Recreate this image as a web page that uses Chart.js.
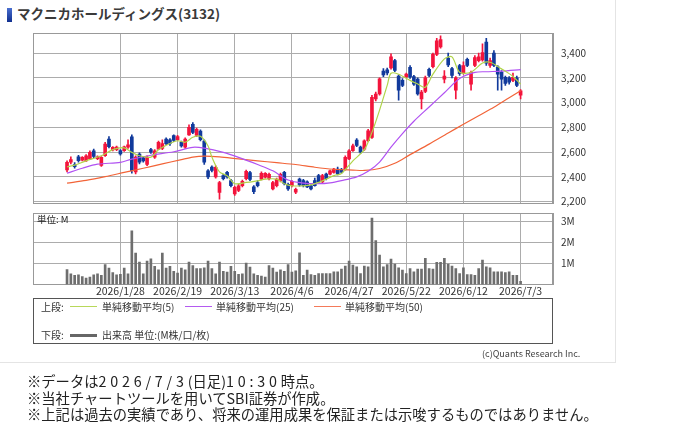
<!DOCTYPE html>
<html lang="ja">
<head>
<meta charset="utf-8">
<script src="https://cdn.jsdelivr.net/npm/chart.js@4.4.1/dist/chart.umd.min.js"></script>
<style>
  body { margin: 0; background: #fff; font-family: 'Noto Sans CJK JP', sans-serif; color: #333; }
  #wrap { position: relative; width: 615px; height: 362px; border-right: 1px solid #e4e4e4; border-bottom: 1px solid #e4e4e4; }
  #title { position: absolute; left: 17px; top: 3px; font-size: 13.5px; font-weight: bold; color: #3a3a3a; white-space: nowrap; }
  #mark { position: absolute; left: 7px; top: 8px; width: 5px; height: 14px; background: linear-gradient(#4a6fd0, #102f8f); }
  canvas { position: absolute; left: 0; }
  #price { top: 0; }
  #vol { top: 205px; }
  #unit { position: absolute; left: 37px; top: 212px; font-size: 9.5px; color: #222; }
  #legend { position: absolute; left: 33px; top: 298px; width: 518px; height: 44px; border: 1px solid #555; font-size: 10px; color: #333; }
  #legend span { position: absolute; white-space: nowrap; }
  #legend i { position: absolute; height: 0; }
  #copy { position: absolute; left: 482px; top: 347px; font-size: 9px; color: #444; }
  #note { position: absolute; left: 27px; top: 373px; font-size: 14.3px; line-height: 16.5px; color: #222; white-space: nowrap; }
  #note b { font-weight: normal; letter-spacing: 3.8px; }
</style>
</head>
<body>
<div id="wrap">
  <div id="mark"></div>
  <div id="title">マクニカホールディングス(3132)</div>
  <canvas id="price" width="620" height="212"></canvas>
  <canvas id="vol" width="620" height="96"></canvas>
  <div id="unit">単位: M</div>
  <div id="legend">
    <span style="left:7px;top:0px">上段:</span>
    <i style="left:36px;top:7px;width:27px;border-top:1.5px solid #b8d85a"></i>
    <span style="left:68px;top:0px">単純移動平均(5)</span>
    <i style="left:151px;top:7px;width:27px;border-top:1.5px solid #b45af0"></i>
    <span style="left:182px;top:0px">単純移動平均(25)</span>
    <i style="left:280px;top:7px;width:27px;border-top:1.5px solid #f47a5a"></i>
    <span style="left:311px;top:0px">単純移動平均(50)</span>
    <span style="left:7px;top:28px">下段:</span>
    <i style="left:36px;top:35px;width:27px;border-top:3px solid #666"></i>
    <span style="left:68px;top:28px">出来高 単位:(M株/口/枚)</span>
  </div>
  <div id="copy">(c)Quants Research Inc.</div>
</div>
<div id="note">※データは<b>2026/7/3</b>(日足)<b>10:30</b>時点。<br>※当社チャートツールを用いてSBI証券が作成。<br>※上記は過去の実績であり、将来の運用成果を保証または示唆するものではありません。</div>

<script>
// 日足データ (2026/1/7 〜 2026/7/3, 120本)
const opens = [2457,2520,2500,2562,2536,2530,2545,2610,2548,2492,2571,2705,2618,2620,2612,2612,2640,2724,2440,2585,
  2555,2500,2620,2560,2625,2630,2706,2700,2733,2700,2680,2640,2740,2825,2735,2770,2690,2450,2480,2400,
  2275,2410,2436,2370,2262,2290,2330,2385,2435,2320,2355,2382,2398,2385,2302,2330,2370,2436,2340,2330,
  2276,2382,2370,2360,2328,2370,2410,2360,2422,2422,2436,2463,2460,2463,2545,2612,2698,2640,2625,2692,
  2720,3030,3070,3255,3265,3280,3340,3215,3180,3208,3286,3210,3190,3030,3090,3270,3290,3390,3450,3190,
  3360,3275,3100,3300,3240,3350,3150,3300,3340,3345,3490,3300,3400,3290,3245,3205,3200,3180,3200,3060];
const highs = [2530,2562,2515,2575,2565,2580,2610,2625,2570,2565,2680,2725,2645,2650,2620,2650,2700,2740,2570,2595,
  2565,2570,2630,2620,2690,2700,2715,2710,2740,2735,2690,2715,2820,2840,2795,2780,2700,2460,2490,2490,
  2365,2420,2445,2380,2325,2340,2375,2455,2445,2330,2370,2440,2435,2430,2365,2390,2430,2445,2350,2370,
  2310,2390,2380,2368,2335,2390,2420,2420,2430,2455,2470,2480,2470,2570,2620,2665,2710,2650,2700,2785,
  3060,3085,3200,3275,3280,3395,3350,3225,3195,3240,3300,3220,3200,3100,3215,3280,3400,3520,3540,3260,
  3400,3285,3210,3310,3330,3360,3255,3380,3400,3475,3520,3360,3420,3300,3260,3215,3210,3240,3215,3105];
const lows = [2440,2505,2470,2520,2530,2525,2540,2555,2540,2485,2565,2635,2610,2612,2575,2605,2630,2430,2425,2505,
  2520,2490,2590,2550,2620,2620,2660,2655,2685,2695,2640,2630,2735,2750,2725,2690,2500,2385,2440,2390,
  2220,2375,2390,2320,2250,2280,2320,2375,2370,2265,2320,2375,2390,2375,2295,2320,2360,2335,2290,2320,
  2265,2325,2320,2312,2295,2325,2350,2350,2375,2415,2430,2415,2430,2455,2540,2605,2645,2590,2615,2685,
  2710,3015,3060,3210,3225,3270,3250,3020,3130,3200,3195,3140,3060,2950,3080,3210,3280,3380,3440,3160,
  3290,3200,3030,3220,3230,3290,3100,3290,3330,3335,3300,3285,3290,3100,3100,3140,3150,3170,3130,3030];
const closes = [2517,2540,2482,2532,2558,2570,2598,2565,2562,2558,2665,2645,2638,2640,2585,2643,2660,2450,2560,2520,
  2530,2560,2600,2610,2680,2670,2668,2670,2695,2725,2650,2705,2800,2760,2785,2700,2520,2400,2452,2477,
  2355,2385,2400,2330,2315,2328,2365,2445,2380,2280,2330,2428,2428,2420,2355,2380,2420,2345,2302,2365,
  2300,2335,2330,2320,2302,2330,2360,2410,2385,2449,2463,2425,2438,2558,2610,2652,2655,2600,2692,2773,
  3044,3070,3192,3225,3240,3370,3260,3100,3140,3230,3208,3150,3070,3085,3200,3220,3390,3500,3510,3215,
  3305,3220,3200,3235,3300,3300,3245,3365,3370,3405,3320,3340,3300,3230,3190,3155,3165,3205,3140,3095];
// 出来高 (M)
const volumes = [0.71,0.51,0.43,0.46,0.38,0.30,0.35,0.46,0.51,0.43,0.94,0.78,0.56,0.46,0.48,0.78,0.51,2.54,1.49,1.06,
  0.51,1.11,1.22,0.86,0.70,1.49,0.78,0.86,0.62,0.54,0.78,0.70,1.06,0.90,0.75,0.75,0.79,1.11,0.75,0.51,
  1.06,0.62,0.59,0.86,0.62,0.48,0.51,1.02,0.83,0.51,0.43,0.40,0.35,0.90,0.78,0.59,0.70,0.63,0.95,0.59,
  0.65,1.50,0.44,0.68,0.47,0.44,0.52,0.52,0.52,0.52,0.60,0.60,0.73,0.87,1.11,0.92,0.84,0.52,0.87,0.84,
  3.15,2.08,1.40,0.84,0.95,1.21,0.97,0.79,0.68,0.52,0.76,0.60,0.73,0.73,1.24,0.76,0.73,1.05,1.05,1.24,
  0.97,0.87,0.76,0.52,0.79,0.47,0.47,0.44,0.76,1.16,0.84,0.79,0.60,0.60,0.60,0.56,0.60,0.44,0.44,0.15];

// 移動平均 (画像から読み取り, x = 足の番号)
const ma5Idx = [0,2,5,9,12,15,17,19,22,24,27,29,31,33,35,37,38,40,42,44,47,50,52,55,57,59,62,64,67,70,72,75,78,80,82,84,85,87,90,92,94,96,99,101,103,106,109,111,114,117,119];
const ma5Val = [2480,2495,2530,2571,2620,2635,2598,2571,2560,2620,2670,2692,2680,2720,2728,2650,2560,2440,2409,2345,2355,2368,2382,2382,2345,2328,2328,2335,2368,2410,2428,2530,2620,2760,2940,3140,3238,3230,3180,3151,3124,3230,3354,3370,3246,3246,3320,3327,3273,3212,3151];
const ma25Idx = [0,4,8,14,17,22,28,33,36,41,45,50,54,58,62,66,69,72,76,79,82,85,88,91,95,99,103,107,110,114,119];
const ma25Val = [2430,2470,2503,2517,2544,2575,2603,2639,2632,2598,2558,2500,2449,2375,2350,2345,2352,2370,2400,2445,2520,2640,2750,2850,2965,3080,3195,3245,3250,3255,3267];
const ma50Idx = [0,5,10,15,20,25,30,33,36,40,45,50,55,60,65,70,75,78,82,86,90,95,100,104,108,112,116,119];
const ma50Val = [2349,2372,2402,2436,2470,2505,2540,2560,2568,2562,2545,2530,2515,2500,2478,2462,2455,2452,2468,2510,2580,2665,2755,2825,2895,2963,3040,3097];

// 目盛り
const tickIdx = [14,29,44,59,74,89,104,119];
const tickLabels = ['2026/1/28','2026/2/19','2026/3/13','2026/4/6','2026/4/27','2026/5/22','2026/6/12','2026/7/3'];
const priceTicks = [2200,2400,2600,2800,3000,3200,3400];
const volTicks = [1,2,3];

const RED = '#f3143c';
const BLUE = '#113a9c';
const GRID = '#acacac';
const X_MIN = -8.93, X_MAX = 127.5;

Chart.defaults.font.family = "'Noto Sans CJK JP', sans-serif";
Chart.defaults.color = '#333';

const frame = {
  id: 'frame',
  beforeDatasetsDraw(chart) {
    const { ctx, chartArea: a } = chart;
    ctx.save();
    ctx.strokeStyle = '#999';
    ctx.lineWidth = 1;
    ctx.strokeRect(Math.round(a.left) + 0.5, Math.round(a.top) + 0.5, Math.round(a.width) - 1, Math.round(a.height) - 1);
    ctx.restore();
  }
};

// 軸ラベルの分だけ描画領域が縮まないようにする
function noPad(s) {
  s.paddingTop = 0; s.paddingBottom = 0; s.paddingLeft = 0; s.paddingRight = 0;
}

const idx = closes.map((_, i) => i);
const colors = idx.map(i => closes[i] >= opens[i] ? RED : BLUE);
const pts = (xs, ys) => xs.map((x, k) => ({ x: x, y: ys[k] }));

function xScale(showLabels, h) {
  return {
    type: 'linear', min: X_MIN, max: X_MAX, offset: false,
    grid: { color: GRID, offset: false, drawTicks: false },
    border: { color: '#999' },
    afterBuildTicks: s => { s.ticks = tickIdx.map(v => ({ value: v })); },
    afterFit: s => { s.height = h; noPad(s); },
    ticks: {
      display: showLabels, padding: 0, maxRotation: 0, autoSkip: false,
      font: { size: 10.5 }, color: '#333',
      callback: v => tickLabels[tickIdx.indexOf(v)]
    }
  };
}

function yScale(min, max, ticks, fmt) {
  return {
    position: 'right', min: min, max: max,
    grid: { color: GRID, drawTicks: false },
    border: { color: '#999' },
    afterBuildTicks: s => { s.ticks = ticks.map(v => ({ value: v })); },
    afterFit: s => { s.width = 67; noPad(s); },
    ticks: { padding: 8, font: { size: 10 }, color: '#333', callback: fmt }
  };
}

new Chart(document.getElementById('price'), {
  type: 'bar',
  data: {
    datasets: [
      { type: 'line', data: pts(ma5Idx, ma5Val), borderColor: '#b0d44a', borderWidth: 1.2, pointRadius: 0, tension: 0.3, order: 0 },
      { type: 'line', data: pts(ma25Idx, ma25Val), borderColor: '#b152f2', borderWidth: 1.2, pointRadius: 0, tension: 0.3, order: 0 },
      { type: 'line', data: pts(ma50Idx, ma50Val), borderColor: '#f26438', borderWidth: 1.2, pointRadius: 0, tension: 0.3, order: 0 },
      { data: idx.map(i => ({ x: i, y: [opens[i], closes[i]] })), backgroundColor: colors, barThickness: 3, minBarLength: 1, grouped: false, order: 1 },
      { data: idx.map(i => ({ x: i, y: [lows[i], highs[i]] })), backgroundColor: colors, barThickness: 1, grouped: false, order: 2 }
    ]
  },
  options: {
    responsive: false, animation: false,
    layout: { padding: { left: 33, top: 33, right: 0, bottom: 0 } },
    plugins: { legend: { display: false }, tooltip: { enabled: false } },
    scales: {
      x: xScale(false, 8.5),
      y: yScale(2185, 3563, priceTicks, v => v.toLocaleString('en-US'))
    }
  },
  plugins: [frame]
});

new Chart(document.getElementById('vol'), {
  type: 'bar',
  data: {
    datasets: [
      { data: idx.map(i => ({ x: i, y: volumes[i] })), backgroundColor: '#6e6e6e', barThickness: 2 }
    ]
  },
  options: {
    responsive: false, animation: false,
    layout: { padding: { left: 33, top: 8, right: 0, bottom: 0 } },
    plugins: { legend: { display: false }, tooltip: { enabled: false } },
    scales: {
      x: xScale(true, 16.5),
      y: yScale(0, 3.39, volTicks, v => v + 'M')
    }
  },
  plugins: [frame]
});
</script>
</body>
</html>
